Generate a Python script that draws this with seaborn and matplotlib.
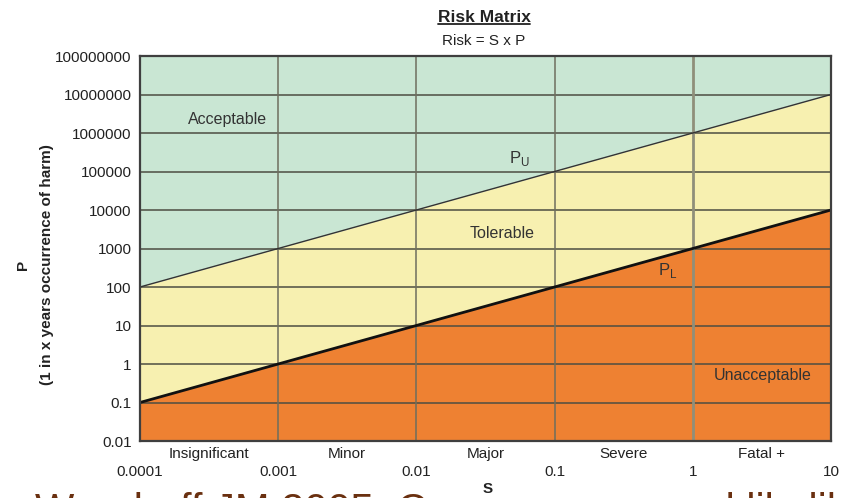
"""Risk matrix: severity S vs. return period P on log-log axes."""

import matplotlib.pyplot as plt
import numpy as np
import pandas as pd
import seaborn as sns
from matplotlib.lines import Line2D
from matplotlib.patches import Rectangle

# severity decades (x) and the two tolerability limits (y)
severity = [0.0001, 0.001, 0.01, 0.1, 1, 10]
severity_tick_labels = ["0.0001", "0.001", "0.01", "0.1", "1", "10"]
severity_classes = ["Insignificant", "Minor", "Major", "Severe", "Fatal +"]
p_upper = [100, 1000, 10000, 100000, 1000000, 10000000]
p_lower = [0.1, 1, 10, 100, 1000, 10000]
p_ticks = [0.01, 0.1, 1, 10, 100, 1000, 10000, 100000, 1000000, 10000000, 100000000]
p_tick_labels = ["0.01", "0.1", "1", "10", "100", "1000", "10000", "100000",
                 "1000000", "10000000", "100000000"]

GREEN = "#c9e6d3"
YELLOW = "#f7f0b0"
ORANGE = "#ee8132"

sns.set_theme(style="white")
plt.rcParams["font.family"] = ["Liberation Sans", "DejaVu Sans"]

fig = plt.figure(figsize=(8.43, 4.98), dpi=100)
ax = fig.add_axes([140 / 843, 1 - 441 / 498, 691 / 843, 385 / 498])
ax.set_xscale("log")
ax.set_yscale("log")
ax.set_xlim(severity[0], severity[-1])
ax.set_ylim(p_ticks[0], p_ticks[-1])

ax.fill_between(severity, p_upper, p_ticks[-1], color=GREEN, lw=0, zorder=0)
ax.fill_between(severity, p_lower, p_upper, color=YELLOW, lw=0, zorder=0)
ax.fill_between(severity, p_ticks[0], p_lower, color=ORANGE, lw=0, zorder=0)

for y in p_ticks[1:-1]:
    ax.axhline(y, color="#4d4d42", lw=1.1, zorder=1)
for x in severity[1:-1]:
    if x == 1:
        ax.axvline(x, color="#8f8f7a", lw=2.0, zorder=1)
    else:
        ax.axvline(x, color="#6e6e5e", lw=1.1, zorder=1)

limits = pd.DataFrame({
    "S": severity * 2,
    "P": p_upper + p_lower,
    "limit": ["upper"] * len(severity) + ["lower"] * len(severity),
})
sns.lineplot(data=limits[limits["limit"] == "upper"], x="S", y="P",
             color="#333333", lw=1.0, ax=ax, zorder=3)
sns.lineplot(data=limits[limits["limit"] == "lower"], x="S", y="P",
             color="#111111", lw=2.0, ax=ax, zorder=3)
ax.set_xlabel("")
ax.set_ylabel("")

for side in ["left", "right", "top", "bottom"]:
    ax.spines[side].set_color("#3f3f3f")
    ax.spines[side].set_linewidth(1.6)
    ax.spines[side].set_zorder(4)

# y ticks
ax.set_yticks(p_ticks)
ax.set_yticklabels(p_tick_labels)
ax.yaxis.set_minor_locator(plt.NullLocator())
ax.tick_params(axis="y", which="major", length=0, pad=6, labelsize=11, labelcolor="#222222")

# x ticks: numbers as major, severity classes on minor ticks between decades
ax.set_xticks(severity)
ax.set_xticklabels(severity_tick_labels)
mids = np.sqrt(np.array(severity[:-1]) * np.array(severity[1:]))
ax.set_xticks(mids, minor=True)
ax.set_xticklabels(severity_classes, minor=True)
ax.tick_params(axis="x", which="major", length=0, pad=17, labelsize=11, labelcolor="#222222")
ax.tick_params(axis="x", which="minor", length=0, pad=4, labelsize=11, labelcolor="#222222")

# region labels
ax.text(0.00043, 2200000, "Acceptable", fontsize=11.5, color="#333333", ha="center", va="center")
ax.text(0.042, 2500, "Tolerable", fontsize=11.5, color="#333333", ha="center", va="center")
ax.text(3.2, 0.5, "Unacceptable", fontsize=11.5, color="#333333", ha="center", va="center")
ax.text(0.056, 220000, r"P$_{\mathregular{U}}$", fontsize=12, color="#333333",
        ha="center", va="center")
ax.text(0.66, 263, r"P$_{\mathregular{L}}$", fontsize=12, color="#333333",
        ha="center", va="center")

# titles
title = fig.text(484 / 843, 1 - 17 / 498, "Risk Matrix", fontsize=12.5,
                 fontweight="bold", ha="center", va="center", color="#222222")
fig.text(484 / 843, 1 - 41 / 498, "Risk = S x P", fontsize=11,
         ha="center", va="center", color="#222222")
fig.text(35 / 843, 1 - 265 / 498, "P\n(1 in x years occurrence of harm)",
         fontsize=11, fontweight="bold", rotation=90, ha="center", va="center",
         linespacing=1.85, color="#222222")

# citation from the slide, cut by the bottom edge
fig.text(35 / 843, -25 / 498, "Woodruff JM 2005. Consequence and likelihood",
         fontsize=30, color="#6a3010", ha="left", va="baseline")
fig.add_artist(Rectangle((432 / 843, 0), 205 / 843, 17 / 498, transform=fig.transFigure,
                         facecolor="white", edgecolor="none", zorder=5))
fig.text(488 / 843, 1 - 489 / 498, "S", fontsize=11, fontweight="bold",
         ha="center", va="center", color="#222222", zorder=6)

# underline the title
fig.canvas.draw()
bb = title.get_window_extent().transformed(fig.transFigure.inverted())
fig.add_artist(Line2D([bb.x0, bb.x1], [bb.y0 + 0.002, bb.y0 + 0.002],
                      transform=fig.transFigure, color="#222222", lw=1.3))

fig.savefig("out.png", dpi=100)
